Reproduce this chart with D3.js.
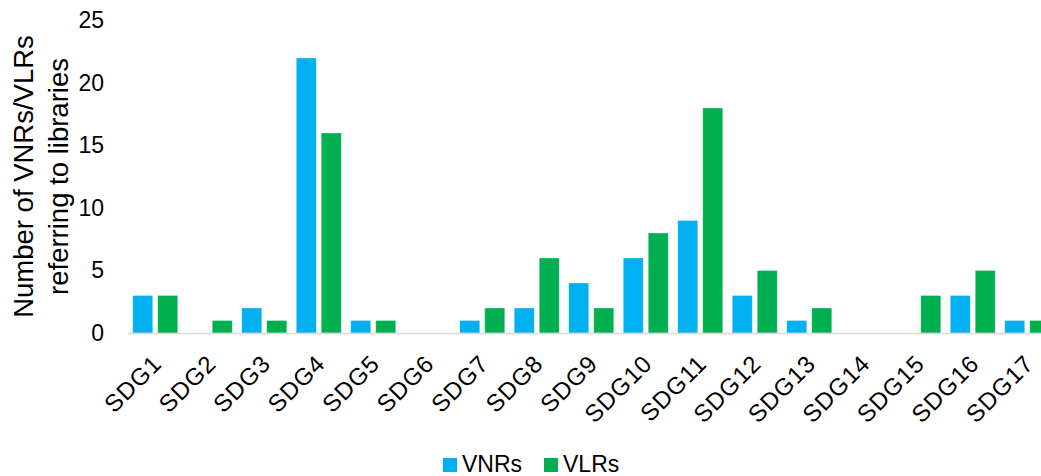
<!DOCTYPE html>
<html>
<head>
<meta charset="utf-8">
<script src="https://cdn.jsdelivr.net/npm/d3@7"></script>
<style>
  html, body { margin: 0; padding: 0; background: #fff; overflow: hidden; }
  svg { display: block; font-family: "Liberation Sans", Arial, sans-serif; }
</style>
</head>
<body>
<svg id="chart" width="1041" height="476"></svg>
<script>
const categories = ["SDG1","SDG2","SDG3","SDG4","SDG5","SDG6","SDG7","SDG8","SDG9","SDG10","SDG11","SDG12","SDG13","SDG14","SDG15","SDG16","SDG17"];
const seriesNames = ["VNRs", "VLRs"];
const vnrValues = [3, 0, 2, 22, 1, 0, 1, 2, 4, 6, 9, 3, 1, 0, 0, 3, 1];
const vlrValues = [3, 1, 1, 16, 1, 0, 2, 6, 2, 8, 18, 5, 2, 0, 3, 5, 1];
const yTicks = [0, 5, 10, 15, 20, 25];
const colors = ["#00B0F0", "#00B050"];

const svg = d3.select("#chart");
const plotLeft = 128, plotRight = 1054.5, plotTop = 20.5, plotBottom = 333;

const x0 = d3.scaleBand().domain(categories).range([plotLeft, plotRight]).padding(0);
const x1 = d3.scaleBand().domain(seriesNames).range([0, x0.bandwidth()]).paddingInner(0.2).paddingOuter(0.19);
const y = d3.scaleLinear().domain([0, 25]).range([plotBottom, plotTop]);
const color = d3.scaleOrdinal().domain(seriesNames).range(colors);

const data = categories.map((c, i) => ({cat: c, values: [vnrValues[i], vlrValues[i]]}));

// bars
const g = svg.append("g");
const groups = g.selectAll("g.cat").data(data).join("g")
  .attr("class", "cat")
  .attr("transform", d => `translate(${x0(d.cat)},0)`);
groups.selectAll("rect").data(d => d.values.map((v, j) => ({key: seriesNames[j], v})).filter(e => e.v > 0))
  .join("rect")
  .attr("x", d => x1(d.key))
  .attr("y", d => y(d.v))
  .attr("width", x1.bandwidth())
  .attr("height", d => y(0) - y(d.v))
  .attr("fill", d => color(d.key))
  .attr("stroke", "#ffffff")
  .attr("stroke-opacity", 0.4)
  .attr("stroke-width", 0.75);

// x axis baseline
svg.append("line")
  .attr("x1", plotLeft).attr("x2", plotRight)
  .attr("y1", y(0) + 0.5).attr("y2", y(0) + 0.5)
  .attr("stroke", "#d9d9d9").attr("stroke-width", 1.5);

// y axis labels
const yAxis = d3.axisLeft(y).tickValues(yTicks).tickSize(0).tickPadding(0);
const yg = svg.append("g").attr("transform", `translate(104,0)`).call(yAxis);
yg.select(".domain").remove();
yg.selectAll("text").attr("font-size", 23).attr("fill", "#000").attr("font-family", "Liberation Sans, Arial, sans-serif");

// x axis labels
const xg = svg.append("g");
xg.selectAll("text").data(categories).join("text")
  .attr("transform", d => `translate(${x0(d) + x0.bandwidth() / 2 + 8},${plotBottom + 32}) rotate(-45)`)
  .attr("text-anchor", "end")
  .attr("font-size", 24)
  .attr("letter-spacing", 1)
  .attr("fill", "#000")
  .text(d => d);

// y title
const yt = svg.append("text")
  .attr("transform", `translate(0,176.5) rotate(-90)`)
  .attr("text-anchor", "middle")
  .attr("font-size", 27.5)
  .attr("fill", "#000");
yt.append("tspan").attr("x", 0).attr("y", 33).text("Number of VNRs/VLRs");
yt.append("tspan").attr("x", 0).attr("y", 68).text("referring to libraries");

// legend
const legend = svg.append("g").attr("transform", "translate(443,458)");
const li = legend.selectAll("g").data(seriesNames).join("g")
  .attr("transform", (d, i) => `translate(${i * 101},0)`);
li.append("rect").attr("width", 14).attr("height", 14).attr("fill", d => color(d));
li.append("text").attr("x", 19).attr("y", 14).attr("font-size", 23).attr("fill", "#000").text(d => d);
</script>
</body>
</html>
